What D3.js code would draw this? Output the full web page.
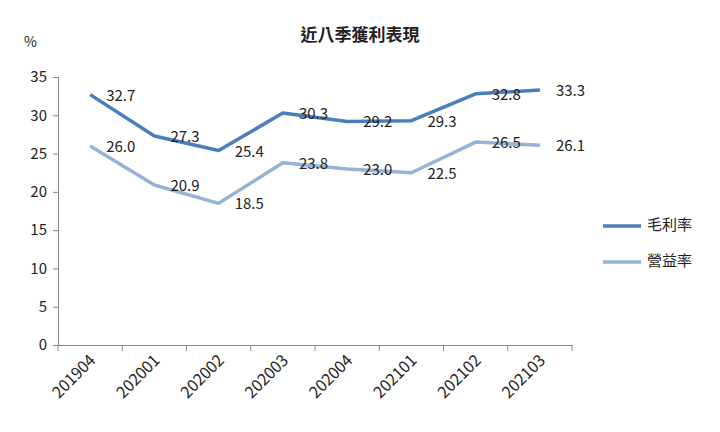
<!doctype html>
<html lang="zh-Hant">
<head>
<meta charset="utf-8">
<script src="https://cdn.jsdelivr.net/npm/d3@7"></script>
<style>
  body { margin: 0; background: #fff; }
  text { font-family: "Noto Sans CJK TC", "Noto Sans", sans-serif; fill: #222; }
  .axis path, .axis line { stroke: #888; }
  .axis text { font-size: 15px; fill: #222; }
</style>
</head>
<body>
<svg width="720" height="432"></svg>
<script>
const quarters = ["201904", "202001", "202002", "202003", "202004", "202101", "202102", "202103"];
const grossMargin = [32.7, 27.3, 25.4, 30.3, 29.2, 29.3, 32.8, 33.3];
const opMargin = [26.0, 20.9, 18.5, 23.8, 23.0, 22.5, 26.5, 26.1];
const yTicks = [0, 5, 10, 15, 20, 25, 30, 35];

const series = [
  { name: "毛利率", values: grossMargin, color: "#4a7ebb" },
  { name: "營益率", values: opMargin, color: "#95b3d7" }
];

const svg = d3.select("svg");
const m = { left: 58, right: 572, top: 77, bottom: 345 };

const x = d3.scaleBand().domain(quarters).range([m.left, m.right]);
const y = d3.scaleLinear().domain([0, 35]).range([m.bottom, m.top]);

svg.append("text").attr("x", 360).attr("y", 41).attr("text-anchor", "middle")
  .style("font-size", "17px").style("font-weight", "bold").text("近八季獲利表現");
svg.append("text").attr("x", 24).attr("y", 47).style("font-size", "14px").text("%");

svg.append("g").attr("class", "axis").attr("transform", `translate(${m.left},0)`)
  .call(d3.axisLeft(y).tickValues(yTicks).tickSize(5).tickPadding(6))
  .selectAll("text").style("font-size", "15px");

const xg = svg.append("g").attr("class", "axis").attr("transform", `translate(0,${m.bottom})`)
  .call(d3.axisBottom(x).tickSize(0).tickPadding(8));
xg.selectAll("text")
  .attr("text-anchor", "end")
  .style("font-size", "16px")
  .attr("transform", "translate(-6,4) rotate(-45)")
  .attr("dy", "0.6em");
// tick marks at band boundaries
xg.selectAll(".bnd").data(quarters.concat([null])).enter().append("line")
  .attr("x1", (d, i) => m.left + i * x.step()).attr("x2", (d, i) => m.left + i * x.step())
  .attr("y1", 0).attr("y2", 6).attr("stroke", "#888");

const line = d3.line().x((d, i) => x(quarters[i]) + x.bandwidth() / 2).y(d => y(d));

series.forEach((s, k) => {
  svg.append("path").datum(s.values).attr("d", line)
    .attr("fill", "none").attr("stroke", s.color).attr("stroke-width", 3.5)
    .attr("stroke-linejoin", "round");
  svg.selectAll(".lbl" + k).data(s.values).enter().append("text")
    .attr("x", (d, i) => x(quarters[i]) + x.bandwidth() / 2 + 16)
    .attr("y", d => y(d) + 2)
    .attr("dominant-baseline", "middle")
    .style("font-size", "15px")
    .text(d => d.toFixed(1));

  const ly = 226 + k * 36;
  svg.append("line").attr("x1", 603).attr("x2", 641).attr("y1", ly).attr("y2", ly)
    .attr("stroke", s.color).attr("stroke-width", 3.5);
  svg.append("text").attr("x", 647).attr("y", ly).attr("dominant-baseline", "middle")
    .style("font-size", "15px").text(s.name);
});
</script>
</body>
</html>
